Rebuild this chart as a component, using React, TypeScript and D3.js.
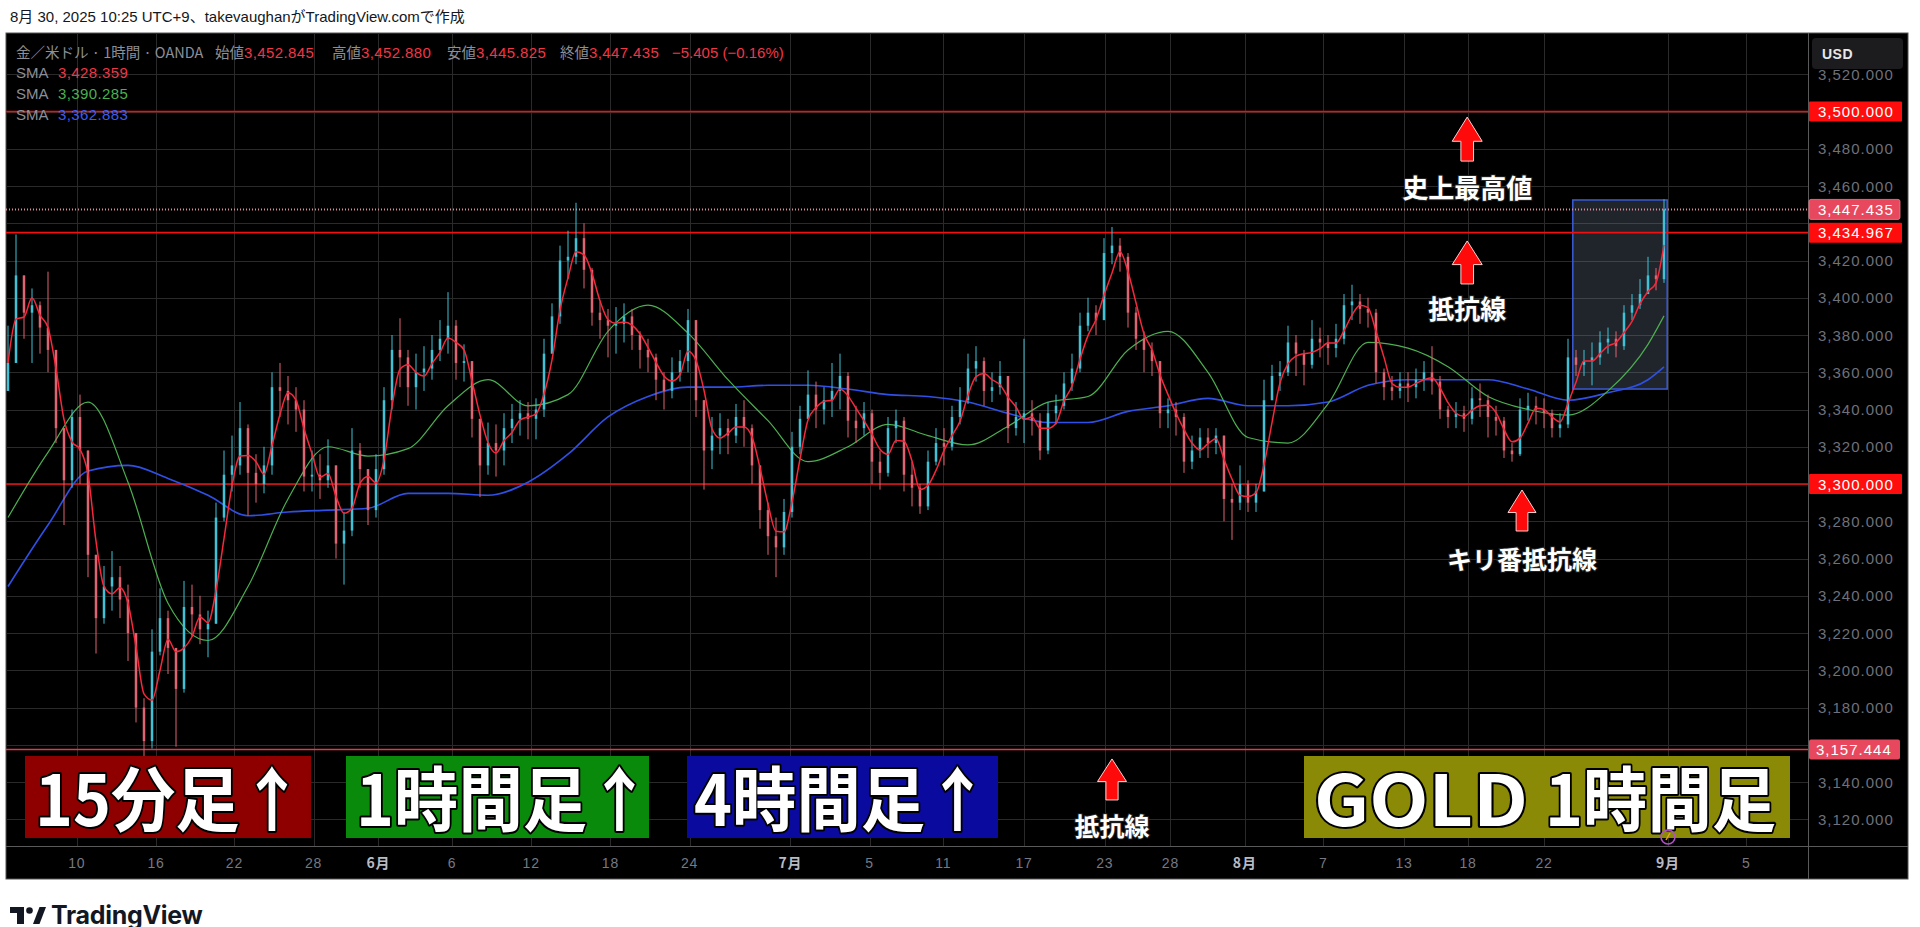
import React from "react";
import * as d3 from "d3";

// ---- Data (each candle ≈ 8 hourly bars) ----
const firstOpen = 3350;
const closes = [
  3365, 3412, 3392, 3396, 3384, 3372, 3330, 3302, 3336, 3318,
  3262, 3228, 3245, 3250, 3238, 3220, 3180, 3162, 3210, 3228,
  3212, 3190, 3234, 3230, 3222, 3225, 3282, 3305, 3310, 3330,
  3306, 3300, 3310, 3352, 3350, 3345, 3340, 3304, 3305, 3302,
  3310, 3268, 3275, 3318, 3308, 3286, 3308, 3345, 3372, 3368,
  3352, 3360, 3362, 3372, 3378, 3385, 3365, 3366, 3335, 3310,
  3322, 3318, 3330, 3335, 3338, 3335, 3340, 3370, 3390, 3420,
  3422, 3432, 3415, 3392, 3388, 3385, 3386, 3390, 3380, 3372,
  3368, 3356, 3350, 3360, 3366, 3388, 3345, 3318, 3326, 3330,
  3326, 3336, 3330, 3310, 3286, 3272, 3266, 3285, 3320, 3335,
  3348, 3340, 3345, 3350, 3358, 3334, 3330, 3338, 3312, 3306,
  3330, 3334, 3305, 3298, 3288, 3312, 3322, 3320, 3336, 3345,
  3362, 3366, 3350, 3352, 3358, 3330, 3336, 3338, 3334, 3318,
  3338, 3342, 3354, 3362, 3385, 3392, 3388, 3424, 3428, 3422,
  3392, 3378, 3372, 3366, 3338, 3340, 3336, 3312, 3318, 3325,
  3322, 3326, 3292, 3290, 3300, 3290, 3296, 3345, 3358, 3360,
  3376, 3370, 3364, 3378, 3376, 3373, 3378, 3396, 3398, 3394,
  3392, 3360, 3352, 3350, 3354, 3352, 3356, 3360, 3355, 3340,
  3336, 3338, 3335, 3346, 3345, 3336, 3334, 3318, 3316, 3340,
  3342, 3340, 3338, 3330, 3332, 3368, 3364, 3366, 3368, 3376,
  3378, 3374, 3392, 3396, 3402, 3412, 3410, 3447.435,
];
const highs = [
  3385, 3434, 3410, 3405, 3398, 3414, 3365, 3330, 3340, 3348,
  3300, 3260, 3256, 3264, 3256, 3246, 3210, 3185, 3222, 3244,
  3232, 3212, 3248, 3246, 3240, 3232, 3290, 3318, 3326, 3344,
  3332, 3316, 3320, 3360, 3365, 3358, 3352, 3345, 3318, 3316,
  3324, 3306, 3285, 3330, 3322, 3308, 3316, 3352, 3380, 3389,
  3372, 3370, 3374, 3380, 3388, 3403, 3388, 3375, 3360, 3335,
  3333, 3332, 3338, 3343, 3345, 3344, 3346, 3378, 3397, 3428,
  3436, 3451, 3440, 3416, 3398, 3394, 3395, 3397, 3394, 3382,
  3378, 3370, 3360, 3368, 3372, 3394, 3384, 3345, 3336, 3338,
  3335, 3343, 3345, 3332, 3310, 3290, 3282, 3292, 3328, 3342,
  3361, 3355, 3352, 3365, 3370, 3360, 3342, 3344, 3340, 3318,
  3336, 3340, 3336, 3312, 3300, 3318, 3330, 3330, 3342, 3352,
  3370, 3374, 3368, 3360, 3366, 3358, 3344, 3378, 3345, 3338,
  3344, 3348, 3360, 3370, 3392, 3400, 3396, 3432, 3438, 3432,
  3424, 3395, 3382, 3376, 3366, 3346, 3344, 3338, 3326, 3330,
  3330, 3330, 3326, 3300, 3310, 3302, 3300, 3356, 3364, 3366,
  3385, 3380, 3372, 3388, 3384, 3380, 3386, 3402, 3407, 3402,
  3400, 3394, 3362, 3358, 3360, 3360, 3362, 3366, 3374, 3358,
  3342, 3344, 3342, 3352, 3354, 3348, 3342, 3336, 3322, 3346,
  3349, 3347, 3346, 3340, 3338, 3378, 3372, 3372, 3376, 3382,
  3384, 3382, 3396, 3402, 3410, 3422, 3416, 3452.88,
];
const lows = [
  3355, 3380, 3378, 3365, 3370, 3360, 3322, 3278, 3298, 3300,
  3250, 3209, 3225, 3232, 3228, 3205, 3172, 3149, 3158, 3208,
  3198, 3159, 3188, 3218, 3214, 3207, 3225, 3280, 3296, 3305,
  3283, 3290, 3295, 3305, 3336, 3332, 3328, 3296, 3296, 3292,
  3298, 3260, 3246, 3272, 3298, 3278, 3282, 3305, 3340, 3352,
  3342, 3340, 3350, 3356, 3366, 3370, 3356, 3355, 3325, 3293,
  3305, 3304, 3310, 3322, 3326, 3324, 3324, 3336, 3372, 3386,
  3410, 3418, 3405, 3385, 3378, 3368, 3370, 3376, 3372, 3362,
  3360, 3345, 3340, 3346, 3355, 3360, 3336, 3297, 3308, 3316,
  3316, 3322, 3320, 3300, 3276, 3262, 3250, 3262, 3282, 3316,
  3336, 3330, 3332, 3336, 3340, 3325, 3322, 3326, 3300, 3297,
  3304, 3322, 3296, 3288, 3284, 3286, 3310, 3310, 3318, 3332,
  3343, 3355, 3342, 3344, 3348, 3322, 3326, 3322, 3326, 3313,
  3316, 3332, 3340, 3350, 3360, 3382, 3380, 3388, 3418, 3414,
  3384, 3372, 3360, 3358, 3330, 3330, 3326, 3306, 3308, 3314,
  3314, 3316, 3280, 3270, 3286, 3285, 3285, 3296, 3345, 3350,
  3358, 3358, 3353, 3362, 3368, 3364, 3368, 3375, 3388, 3386,
  3384, 3354, 3345, 3345, 3346, 3344, 3346, 3350, 3348, 3335,
  3330, 3330, 3328, 3332, 3336, 3325, 3326, 3314, 3312, 3315,
  3334, 3332, 3330, 3325, 3325, 3330, 3358, 3358, 3353, 3364,
  3370, 3368, 3372, 3388, 3394, 3402, 3404, 3408,
];
const smaStep = 5;
const smaGreen = [
  3282, 3317, 3344, 3301, 3236, 3216, 3245, 3292, 3320, 3315,
  3319, 3342, 3356, 3342, 3348, 3382, 3396, 3381, 3356, 3334,
  3312, 3320, 3332, 3326, 3321, 3331, 3344, 3347, 3372, 3382,
  3360, 3325, 3322, 3343, 3376, 3373, 3363, 3347, 3340, 3337,
  3350, 3375,
];
const smaGreenLast = 3390.285;
const smaBlue = [
  3245, 3278, 3307, 3310, 3303, 3294, 3283, 3285, 3286, 3287,
  3295, 3295, 3294, 3301, 3316, 3336, 3347, 3352, 3352, 3353,
  3353, 3351, 3348, 3347, 3344, 3338, 3333, 3333, 3339, 3342,
  3346, 3342, 3342, 3344, 3353, 3356, 3356, 3356, 3351, 3345,
  3349, 3356,
];
const smaBlueLast = 3362.883;
const smaRedLast = 3428.359;

const priceTicks = [3120, 3140, 3160, 3180, 3200, 3220, 3240, 3260, 3280, 3300, 3320, 3340, 3360, 3380, 3400, 3420, 3440, 3460, 3480, 3500, 3520];
const timeLabels = ["10", "16", "22", "28", "6月", "6", "12", "18", "24", "7月", "5", "11", "17", "23", "28", "8月", "7", "13", "18", "22", "9月", "5"];
const timeIdx = [8.6, 18.5, 28.3, 38.2, 46.3, 55.5, 65.4, 75.3, 85.2, 97.8, 107.7, 116.9, 127, 137.1, 145.3, 154.6, 164.4, 174.5, 182.5, 192, 207.5, 217.3];
const levelLines = [3500, 3434.967, 3300];
const prevLow = 3157.444;
const lastPrice = 3447.435;
const ohlc = { open: "3,452.845", high: "3,452.880", low: "3,445.825", close: "3,447.435", change: "−5.405 (−0.16%)" };
const boxRange = { i0: 195.6, i1: 207.4, top: 3452.5, bottom: 3351 };

// ---- Layout ----
const W = 1920, H = 927;
const L = 6, T = 33, PR = 1808, R = 1908, PB = 846, B = 879;
const UP = "#3fc1d6", DOWN = "#dd6470";
const JP = "'Noto Sans CJK JP', 'Noto Sans', sans-serif";
const LAT = "'Liberation Sans', 'Noto Sans CJK JP', sans-serif";

function Arrow({ cx, top, w, h }: { cx: number; top: number; w: number; h: number }) {
  const hh = h * 0.55, sw = w * 0.42;
  const p = [
    [cx, top], [cx + w / 2, top + hh], [cx + sw / 2, top + hh], [cx + sw / 2, top + h],
    [cx - sw / 2, top + h], [cx - sw / 2, top + hh], [cx - w / 2, top + hh],
  ];
  return <polygon points={p.map((d) => d.join(",")).join(" ")} fill="#ff0a0a" stroke="#ffd0d0" strokeWidth={1} />;
}

export default function App() {
  const n = closes.length;
  const x = d3.scaleLinear().domain([0, n - 1]).range([8, 1664]);
  const y = d3.scaleLinear().domain([3120, 3500]).range([819.3, 111.5]);
  const fmt = d3.format(",.3f");

  const candles = closes.map((c, i) => {
    const o = i === 0 ? firstOpen : closes[i - 1];
    return { i, o, c, h: Math.max(highs[i], o, c), l: Math.min(lows[i], o, c) };
  });
  const red = closes.map((_, i) => [i, d3.mean(closes.slice(Math.max(0, i - 2), i + 1)) as number]);
  red[n - 1] = [n - 1, smaRedLast];
  const slow = (vals: number[], last: number) => [...vals.map((v, k) => [k * smaStep, v]), [n - 1, last]];
  const line = d3.line<number[]>().x((d) => x(d[0])).y((d) => y(d[1])).curve(d3.curveMonotoneX);

  const ticksInPlot = priceTicks.filter((p) => y(p) > T && y(p) < PB);
  const boxed = [...levelLines, prevLow, lastPrice];
  const axisTicks = priceTicks.filter((p) => boxed.every((b) => Math.abs(y(p) - y(b)) > 16));

  const captions = [
    { x0: 25, w: 286, fill: "#8e0000" },
    { x0: 346, w: 303, fill: "#0a8a0a" },
    { x0: 687, w: 311, fill: "#0a0a9e" },
    { x0: 1304, w: 486, fill: "#8a8a06" },
  ];
  const captionTexts = [
    { tx: 35, sx: 0.92, label: "15分足↑" },
    { tx: 356, sx: 0.92, label: "1時間足↑" },
    { tx: 694, sx: 0.92, label: "4時間足↑" },
    { tx: 1314, sx: 1.1, label: "GOLD" },
    { tx: 1545, sx: 0.92, label: "1時間足" },
  ];

  return (
    <svg width={W} height={H} style={{ position: "absolute", left: 0, top: 0, display: "block" }} xmlns="http://www.w3.org/2000/svg">
      <defs>
        <clipPath id="plot"><rect x={L} y={T} width={PR - L} height={PB - T} /></clipPath>
        <clipPath id="axis"><rect x={PR} y={T} width={R - PR} height={PB - T} /></clipPath>
      </defs>
      <rect x={0} y={0} width={W} height={H} fill="#ffffff" />
      <text x={10} y={22} fontFamily={LAT} fontSize={15} fill="#131722">8月 30, 2025 10:25 UTC+9、takevaughanがTradingView.comで作成</text>

      {/* chart frame */}
      <rect x={L} y={T} width={R - L} height={B - T} fill="#000000" stroke="#555" strokeWidth={1} />

      {/* grid */}
      <g stroke="#2a2a2a" strokeWidth={1}>
        {ticksInPlot.map((p) => <line key={p} x1={L} x2={PR} y1={Math.round(y(p)) + 0.5} y2={Math.round(y(p)) + 0.5} />)}
        {timeIdx.map((t, k) => x(t) < PR ? <line key={k} x1={Math.round(x(t)) + 0.5} x2={Math.round(x(t)) + 0.5} y1={T} y2={PB} /> : null)}
      </g>

      <g clipPath="url(#plot)">
        {/* drawn rectangle */}
        <rect x={x(boxRange.i0)} y={y(boxRange.top)} width={x(boxRange.i1) - x(boxRange.i0)} height={y(boxRange.bottom) - y(boxRange.top)} fill="rgba(120,135,160,0.27)" stroke="#3a5bd6" strokeWidth={1.5} />
        {/* level lines */}
        {levelLines.map((p) => <line key={p} x1={L} x2={PR} y1={y(p)} y2={y(p)} stroke="#f01010" strokeWidth={1.6} />)}
        <line x1={L} x2={PR} y1={y(prevLow)} y2={y(prevLow)} stroke="#e23a4a" strokeWidth={1.4} />
        <line x1={L} x2={PR} y1={y(lastPrice)} y2={y(lastPrice)} stroke="#d88a95" strokeWidth={2} strokeDasharray="1 2" />
        {/* slow SMAs */}
        <path d={line(slow(smaBlue, smaBlueLast)) as string} fill="none" stroke="#2f50e6" strokeWidth={1.6} />
        <path d={line(slow(smaGreen, smaGreenLast)) as string} fill="none" stroke="#4caf50" strokeWidth={1.2} />
        {/* candles */}
        {candles.map((d) => {
          const col = d.c >= d.o ? UP : DOWN;
          const cx = x(d.i);
          const yt = y(Math.max(d.o, d.c)), yb = y(Math.min(d.o, d.c));
          return (
            <g key={d.i}>
              <line x1={cx} x2={cx} y1={y(d.h)} y2={y(d.l)} stroke={col} strokeWidth={1} />
              <rect x={cx - 1.25} y={yt} width={2.5} height={Math.max(1, yb - yt)} fill={col} />
            </g>
          );
        })}
        {/* fast SMA */}
        <path d={line(red) as string} fill="none" stroke="#f5283c" strokeWidth={1.5} />
      </g>

      {/* legend */}
      <g fontFamily={LAT} fontSize={15}>
        <text x={16} y={58} fill="#8c8f98" fontFamily={JP} fontSize={14.5}>金／米ドル · 1時間 · OANDA</text>
        <text y={58} fill="#8c8f98">
          <tspan x={215} fontFamily={JP} fontSize={14.5}>始値</tspan><tspan fill="#f23645" letterSpacing={0.4}>{ohlc.open}</tspan>
          <tspan x={332} fontFamily={JP} fontSize={14.5}>高値</tspan><tspan fill="#f23645" letterSpacing={0.4}>{ohlc.high}</tspan>
          <tspan x={447} fontFamily={JP} fontSize={14.5}>安値</tspan><tspan fill="#f23645" letterSpacing={0.4}>{ohlc.low}</tspan>
          <tspan x={560} fontFamily={JP} fontSize={14.5}>終値</tspan><tspan fill="#f23645" letterSpacing={0.4}>{ohlc.close}</tspan>
          <tspan x={672} fill="#f23645">{ohlc.change}</tspan>
        </text>
        {[["#f23645", smaRedLast], ["#4caf50", smaGreenLast], ["#3b5cf0", smaBlueLast]].map(([c, v], k) => (
          <text key={k} y={78 + k * 21} fill="#8c8f98">
            <tspan x={16}>SMA</tspan>
            <tspan x={58} fill={c as string} letterSpacing={0.4}>{fmt(v as number)}</tspan>
          </text>
        ))}
      </g>

      {/* annotations */}
      <Arrow cx={x(182.4)} top={y(3497)} w={30} h={44} />
      <Arrow cx={x(182.4)} top={y(3430.5)} w={30} h={43} />
      <Arrow cx={x(189.25)} top={y(3296.8)} w={28} h={41} />
      <Arrow cx={x(138)} top={y(3152.4)} w={29} h={41} />
      <g fontFamily={JP} fontWeight={700} fill="#ffffff" stroke="#222" strokeWidth={2} paintOrder="stroke" textAnchor="middle" dominantBaseline="central">
        <text x={x(182.4)} y={y(3459.5)} fontSize={26}>史上最高値</text>
        <text x={x(182.4)} y={y(3395)} fontSize={26}>抵抗線</text>
        <text x={x(189.25)} y={y(3260.3)} fontSize={25}>キリ番抵抗線</text>
        <text x={x(138)} y={y(3116.9)} fontSize={25}>抵抗線</text>
      </g>

      {/* big captions */}
      {captions.map((b, k) => <rect key={k} x={b.x0} y={756} width={b.w} height={82} fill={b.fill} />)}
      {captionTexts.map((c, k) => (
        <text key={k} transform={`translate(${c.tx},826) scale(${c.sx},1)`} fontFamily={JP} fontWeight={700} fontSize={70} fill="#ffffff" stroke="#000" strokeWidth={4} paintOrder="stroke" strokeLinejoin="round">{c.label}</text>
      ))}
      <circle cx={x(207.5)} cy={837} r={7} fill="none" stroke="#b04fc8" strokeWidth={1.5} />
      <line x1={x(207.5) - 2} y1={840} x2={x(207.5) + 2} y2={833} stroke="#f0a020" strokeWidth={1.5} />

      {/* axes separators */}
      <line x1={PR + 0.5} x2={PR + 0.5} y1={T} y2={B} stroke="#5a5a5a" strokeWidth={1} />
      <line x1={L} x2={R} y1={PB + 0.5} y2={PB + 0.5} stroke="#5a5a5a" strokeWidth={1} />

      {/* price axis */}
      <g clipPath="url(#axis)" fontFamily={LAT} fontSize={15} letterSpacing={1}>
        {axisTicks.map((p) => (
          <text key={p} x={1818} y={y(p)} dominantBaseline="central" fill="#6e717b">{fmt(p)}</text>
        ))}
        {levelLines.map((p) => (
          <g key={p}>
            <rect x={PR + 1} y={y(p) - 10} width={93} height={20} fill="#ff0d0d" rx={1} />
            <text x={1818} y={y(p)} dominantBaseline="central" fill="#ffffff">{fmt(p)}</text>
          </g>
        ))}
        <rect x={PR + 1} y={y(lastPrice) - 10} width={91} height={20} fill="#e8485e" stroke="#f08090" strokeWidth={0.8} rx={2} />
        <text x={1818} y={y(lastPrice)} dominantBaseline="central" fill="#ffffff">{fmt(lastPrice)}</text>
        <rect x={PR + 1} y={y(prevLow) - 10} width={91} height={20} fill="#e8485e" rx={2} />
        <text x={1816} y={y(prevLow)} dominantBaseline="central" fill="#ffffff">{fmt(prevLow)}</text>
        <rect x={1812} y={38} width={91} height={31} rx={4} fill="#1c1c1e" />
        <text x={1822} y={54} dominantBaseline="central" fill="#e8e8e8" fontSize={14} fontWeight={700} letterSpacing={0.5}>USD</text>
      </g>

      {/* time axis */}
      <g fontFamily={LAT} fontSize={14} textAnchor="middle" letterSpacing={0.8}>
        {timeLabels.map((t, k) => {
          const month = t.includes("月");
          return (
            <text key={k} x={x(timeIdx[k])} y={868} fill={month ? "#b8bbc4" : "#767983"} fontWeight={month ? 700 : 400} fontFamily={month ? JP : LAT}>{t}</text>
          );
        })}
      </g>

      {/* TradingView logo */}
      <g fill="#131722">
        <path d="M10,907 H24 V924 H17 V913 H10 Z" />
        <circle cx={29.5} cy={910.5} r={3.3} />
        <polygon points="33,924 39.5,907 46,907 39.5,924" />
        <text x={51} y={924} fontFamily="Inter, 'Liberation Sans', sans-serif" fontWeight={700} fontSize={25} letterSpacing={-0.3}>TradingView</text>
      </g>
    </svg>
  );
}
